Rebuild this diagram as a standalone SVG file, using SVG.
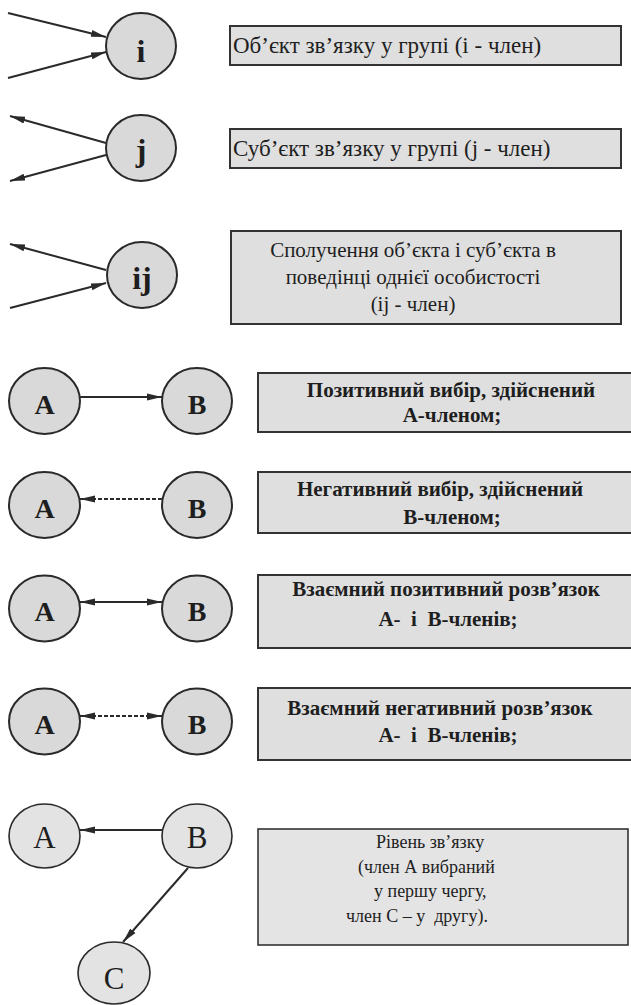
<svg xmlns="http://www.w3.org/2000/svg" width="631" height="1005" viewBox="0 0 631 1005">
<style>
.nd{fill:#d9d9d9;stroke:#2a2a2a;stroke-width:2}
.nd2{fill:#e3e3e3;stroke:#2a2a2a;stroke-width:1.6}
.bx{fill:#dfdfdf;stroke:#333;stroke-width:2}
.bx2{fill:#e4e4e4;stroke:#333;stroke-width:1.6}
.lt{font-family:"Liberation Serif","Times New Roman",serif;font-weight:bold;fill:#1e1e1e}
.lr{font-family:"Liberation Serif","Times New Roman",serif;fill:#1e1e1e}
.t{font-family:"Liberation Serif","Times New Roman",serif;font-size:23px;fill:#1e1e1e}
.t3{font-family:"Liberation Serif","Times New Roman",serif;font-size:21px;fill:#1e1e1e;text-anchor:middle}
.tb{font-family:"Liberation Serif","Times New Roman",serif;font-size:21px;font-weight:bold;fill:#1e1e1e;text-anchor:middle}
.tc{font-family:"Liberation Serif","Times New Roman",serif;font-size:18px;fill:#1e1e1e}
.ln{stroke:#2a2a2a;stroke-width:2;fill:none}
.ds{stroke-dasharray:4 2}
</style>
<defs>
<marker id="arr" markerUnits="userSpaceOnUse" markerWidth="16" markerHeight="10" refX="15" refY="4" orient="auto-start-reverse" viewBox="0 0 16 8">
<path d="M0,0.5 L15,4 L0,7.5 z" fill="#2a2a2a"/>
</marker>
</defs>

<g id="connectors">
<line class="ln" x1="8" y1="13" x2="106" y2="37" marker-end="url(#arr)"/>
<line class="ln" x1="8" y1="78" x2="106" y2="52" marker-end="url(#arr)"/>
<line class="ln" x1="106" y1="143" x2="10" y2="116" marker-end="url(#arr)"/>
<line class="ln" x1="106" y1="155" x2="10" y2="181" marker-end="url(#arr)"/>
<line class="ln" x1="106" y1="270" x2="10" y2="244" marker-end="url(#arr)"/>
<line class="ln" x1="10" y1="308" x2="106" y2="283" marker-end="url(#arr)"/>
<line class="ln" x1="80" y1="397" x2="162" y2="397" marker-end="url(#arr)"/>
<line class="ln ds" x1="162" y1="499" x2="80" y2="499" marker-end="url(#arr)"/>
<line class="ln" x1="80" y1="602" x2="162" y2="602" marker-start="url(#arr)" marker-end="url(#arr)"/>
<line class="ln ds" x1="80" y1="716" x2="162" y2="716" marker-start="url(#arr)" marker-end="url(#arr)"/>
<line class="ln" x1="162" y1="830" x2="80" y2="830" stroke-width="1.6" marker-end="url(#arr)"/>
<line class="ln" x1="188" y1="868" x2="123" y2="942" stroke-width="1.6" marker-end="url(#arr)"/>
</g>

<g id="node-i">
<ellipse class="nd" cx="141" cy="46" rx="35" ry="33"/>
<text class="lt" x="141" y="62" font-size="32" text-anchor="middle">i</text>
</g>
<g id="box-i">
<rect class="bx" x="230" y="26" width="391" height="39"/>
<text class="t" x="233" y="53">Об’єкт зв’язку у групі (і - член)</text>
</g>

<g id="node-j">
<ellipse class="nd" cx="141" cy="148" rx="35" ry="33"/>
<text class="lt" x="141" y="161" font-size="32" text-anchor="middle">j</text>
</g>
<g id="box-j">
<rect class="bx" x="230" y="129" width="391" height="39"/>
<text class="t" x="233" y="156">Суб’єкт зв’язку у групі (j - член)</text>
</g>

<g id="node-ij">
<ellipse class="nd" cx="142" cy="275" rx="35" ry="33"/>
<text class="lt" x="142" y="289" font-size="32" text-anchor="middle">ij</text>
</g>
<g id="box-ij">
<rect class="bx" x="231" y="231" width="390" height="93"/>
<text class="t3" x="413" y="257">Сполучення об’єкта і суб’єкта в</text>
<text class="t3" x="413" y="284">поведінці однієї особистості</text>
<text class="t3" x="413" y="311">(ij - член)</text>
</g>

<g id="row4-A">
<ellipse class="nd" cx="44.5" cy="401" rx="35.5" ry="33"/>
<text class="lt" x="44.5" y="414" font-size="28" text-anchor="middle">A</text>
</g>
<g id="row4-B">
<ellipse class="nd" cx="197" cy="401" rx="35" ry="33"/>
<text class="lt" x="197" y="414" font-size="28" text-anchor="middle">B</text>
</g>
<g id="box-4">
<rect class="bx" x="258" y="373" width="385" height="59"/>
<text class="tb" x="451" y="397">Позитивний вибір, здійснений</text>
<text class="tb" x="452" y="422">А-членом;</text>
</g>

<g id="row5-A">
<ellipse class="nd" cx="44.5" cy="505" rx="35.5" ry="33"/>
<text class="lt" x="44.5" y="518" font-size="28" text-anchor="middle">A</text>
</g>
<g id="row5-B">
<ellipse class="nd" cx="197" cy="505" rx="35" ry="33"/>
<text class="lt" x="197" y="518" font-size="28" text-anchor="middle">B</text>
</g>
<g id="box-5">
<rect class="bx" x="258" y="472" width="385" height="61"/>
<text class="tb" x="440" y="496">Негативний вибір, здійснений</text>
<text class="tb" x="452" y="524">В-членом;</text>
</g>

<g id="row6-A">
<ellipse class="nd" cx="44.5" cy="608.5" rx="35.5" ry="33"/>
<text class="lt" x="44.5" y="621" font-size="28" text-anchor="middle">A</text>
</g>
<g id="row6-B">
<ellipse class="nd" cx="197" cy="608.5" rx="35" ry="33"/>
<text class="lt" x="197" y="621" font-size="28" text-anchor="middle">B</text>
</g>
<g id="box-6">
<rect class="bx" x="258" y="575" width="385" height="73"/>
<text class="tb" x="446" y="596">Взаємний позитивний розв’язок</text>
<text class="tb" x="448" y="626" xml:space="preserve">А-  і  В-членів;</text>
</g>

<g id="row7-A">
<ellipse class="nd" cx="44.5" cy="721.5" rx="35.5" ry="33"/>
<text class="lt" x="44.5" y="734" font-size="28" text-anchor="middle">A</text>
</g>
<g id="row7-B">
<ellipse class="nd" cx="197" cy="721.5" rx="35" ry="33"/>
<text class="lt" x="197" y="734" font-size="28" text-anchor="middle">B</text>
</g>
<g id="box-7">
<rect class="bx" x="258" y="688" width="385" height="72"/>
<text class="tb" x="440" y="715">Взаємний негативний розв’язок</text>
<text class="tb" x="448" y="742" xml:space="preserve">А-  і  В-членів;</text>
</g>

<g id="row8-A">
<ellipse class="nd2" cx="44.5" cy="836" rx="35.5" ry="32"/>
<text class="lr" x="44.5" y="848" font-size="31" text-anchor="middle">A</text>
</g>
<g id="row8-B">
<ellipse class="nd2" cx="197" cy="836" rx="35" ry="32"/>
<text class="lr" x="197" y="848" font-size="31" text-anchor="middle">B</text>
</g>
<g id="row8-C">
<ellipse class="nd2" cx="114" cy="973" rx="36" ry="31"/>
<text class="lr" x="114" y="989" font-size="31" text-anchor="middle">C</text>
</g>
<g id="box-8">
<rect class="bx2" x="258" y="829" width="370" height="116"/>
<text class="tc" x="376" y="848">Рівень зв’язку</text>
<text class="tc" x="358" y="873">(член А вибраний</text>
<text class="tc" x="374" y="897">у першу чергу,</text>
<text class="tc" x="346" y="922" xml:space="preserve">член С – у  другу).</text>
</g>
</svg>
